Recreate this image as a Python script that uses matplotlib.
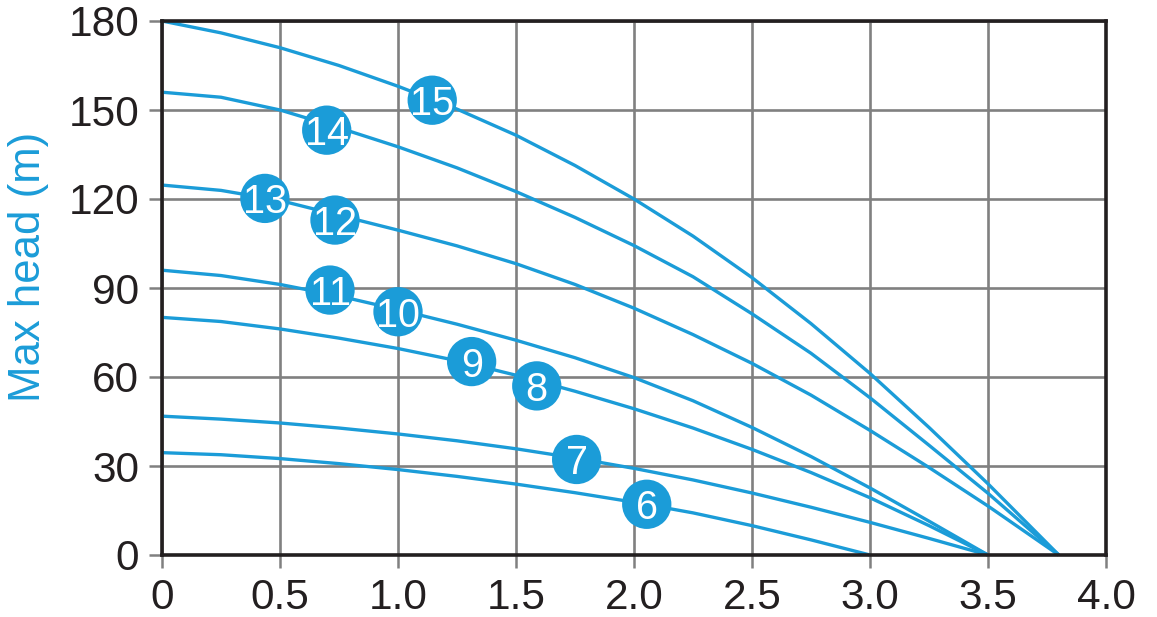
import matplotlib
matplotlib.use("Agg")
import matplotlib.pyplot as plt

# ---- data (flow in m3/h, head in m) ----
flow_to_38 = [0, 0.25, 0.5, 0.75, 1.0, 1.25, 1.5, 1.75, 2.0, 2.25, 2.5, 2.75, 3.0, 3.25, 3.5, 3.8]
flow_to_35 = [0, 0.25, 0.5, 0.75, 1.0, 1.25, 1.5, 1.75, 2.0, 2.25, 2.5, 2.75, 3.0, 3.25, 3.5]
flow_to_30 = [0, 0.25, 0.5, 0.75, 1.0, 1.25, 1.5, 1.75, 2.0, 2.25, 2.5, 2.75, 3.0]

head_15 = [180, 176, 171, 165, 158, 150.3, 141.5, 131.3, 120, 107.5, 93.5, 78, 61.2, 43, 24, 0]
head_14 = [156, 154.3, 150, 144, 137.6, 130.5, 122.5, 113.8, 104.3, 93.8, 81.3, 68, 53, 37, 20.8, 0]
head_13 = [124.7, 122.9, 119.5, 114.5, 109.5, 104.2, 98.2, 91.2, 83.2, 74.3, 64.6, 53.9, 42, 29.5, 16.5, 0]
head_11 = [96, 94.2, 91.2, 87.3, 82.7, 77.8, 72.4, 66.5, 59.8, 52, 43, 33.2, 22.6, 11.4, 0]
head_9 = [80.1, 78.7, 76.2, 73.1, 69.6, 65.5, 60.6, 55.2, 49.3, 42.8, 35.6, 27.8, 19.3, 9.9, 0]
head_7 = [46.8, 45.8, 44.5, 42.8, 40.8, 38.5, 35.8, 32.7, 29.2, 25.3, 20.9, 16.1, 11, 5.6, 0]
head_6 = [34.5, 33.8, 32.5, 30.8, 28.8, 26.5, 23.9, 21, 17.8, 14.2, 9.9, 5.1, 0]

label_text = ["15", "14", "13", "12", "11", "10", "9", "8", "7", "6"]
label_flow = [1.145, 0.698, 0.436, 0.733, 0.712, 1.0, 1.312, 1.588, 1.757, 2.054]
label_head = [153.3, 143.2, 120.2, 112.9, 89.3, 82.0, 65.2, 57.0, 32.2, 17.1]

x_ticks = [0, 0.5, 1.0, 1.5, 2.0, 2.5, 3.0, 3.5, 4.0]
x_tick_labels = ["0", "0.5", "1.0", "1.5", "2.0", "2.5", "3.0", "3.5", "4.0"]
y_ticks = [0, 30, 60, 90, 120, 150, 180]
y_label = "Max head (m)"

# ---- style ----
BLUE = "#1b9cd8"
DARK = "#231f20"
GRID = "#808080"
TICKFONT = ["Liberation Sans", "DejaVu Sans"]
NUMFONT = ["Liberation Sans Narrow", "Liberation Sans", "DejaVu Sans"]

W, H = 1157, 617
fig = plt.figure(figsize=(W / 100, H / 100), dpi=100)
ax = fig.add_axes([162 / W, 1 - 555 / H, (1106 - 162) / W, (555 - 21) / H])

ax.set_xlim(0, 4.0)
ax.set_ylim(0, 180)
ax.set_xticks(x_ticks)
ax.set_xticklabels(x_tick_labels)
ax.set_yticks(y_ticks)
ax.set_yticklabels([str(v) for v in y_ticks])

ax.grid(True, color=GRID, linewidth=1.9, zorder=1)
ax.set_axisbelow(True)
for s in ax.spines.values():
    s.set_color(DARK)
    s.set_linewidth(2.6)
    s.set_zorder(5)

ax.tick_params(axis="both", direction="out", length=9.5, width=1.8, color=GRID,
               labelsize=30.5, labelcolor=DARK, pad=7)
for lab in ax.get_xticklabels() + ax.get_yticklabels():
    lab.set_family(TICKFONT)

series = [
    (flow_to_38, head_15),
    (flow_to_38, head_14),
    (flow_to_38, head_13),
    (flow_to_35, head_11),
    (flow_to_35, head_9),
    (flow_to_35, head_7),
    (flow_to_30, head_6),
]
for fx, hy in series:
    ax.plot(fx, hy, color=BLUE, linewidth=2.4, solid_capstyle="butt",
            solid_joinstyle="round", zorder=3, clip_on=False)

ax.scatter(label_flow, label_head, s=35.5 ** 2, color=BLUE, edgecolors="none", zorder=6, clip_on=False)
for t, fx, hy in zip(label_text, label_flow, label_head):
    ax.text(fx, hy, t, color="white", fontsize=28.5, family=NUMFONT,
            ha="center", va="center_baseline", zorder=7)

fig.text(29 / W, 1 - 267 / H, y_label, rotation=90, color=BLUE, fontsize=31.5,
         family=TICKFONT, ha="center", va="center")

fig.savefig("out.png", dpi=100)
